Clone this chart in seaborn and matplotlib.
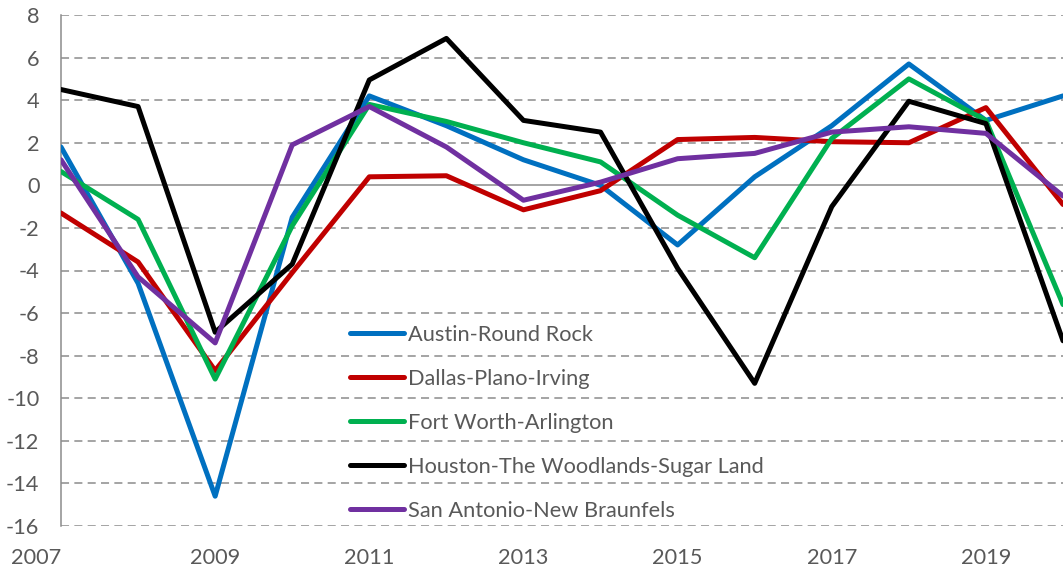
import numpy as np
import pandas as pd
import matplotlib
matplotlib.use("Agg")
import matplotlib.pyplot as plt
import seaborn as sns

years = list(range(2007, 2021))
austin = [1.8, -4.6, -14.6, -1.5, 4.2, 2.8, 1.2, 0.0, -2.8, 0.4, 2.8, 5.7, 3.05, 4.2]
dallas = [-1.3, -3.6, -8.7, -4.1, 0.4, 0.45, -1.15, -0.25, 2.15, 2.25, 2.05, 2.0, 3.65, -0.9]
fort_worth = [0.65, -1.6, -9.1, -1.9, 3.8, 3.0, 2.0, 1.1, -1.4, -3.4, 2.2, 5.0, 3.05, -5.6]
houston = [4.5, 3.7, -6.9, -3.7, 4.95, 6.9, 3.05, 2.5, -3.9, -9.3, -1.0, 3.95, 2.9, -7.3]
san_antonio = [1.2, -4.3, -7.4, 1.9, 3.7, 1.8, -0.7, 0.15, 1.25, 1.5, 2.5, 2.75, 2.44, -0.5]

series_names = ["Austin-Round Rock", "Dallas-Plano-Irving", "Fort Worth-Arlington",
                "Houston-The Woodlands-Sugar Land", "San Antonio-New Braunfels"]
series_values = [austin, dallas, fort_worth, houston, san_antonio]
colors = ["#0070C0", "#C00000", "#00B050", "#000000", "#7030A0"]

y_ticks = list(range(-16, 9, 2))
x_label_years = list(range(2007, 2020, 2))

rows = []
for name, vals in zip(series_names, series_values):
    for yr, v in zip(years, vals):
        rows.append({"Year": yr, "Value": v, "Metro": name})
df = pd.DataFrame(rows)

sns.set_style("white")
plt.rcParams["font.family"] = ["Lato", "DejaVu Sans"]
plt.rcParams["lines.scale_dashes"] = False

fig = plt.figure(figsize=(10.63, 5.70), dpi=100)
ax = fig.add_axes([61 / 1063, 1 - 526 / 570, 1 - 61 / 1063, (526 - 15) / 570])

text_color = "#595959"
grid_color = "#8C8C8C"
fs = 15.7

sns.lineplot(data=df, x="Year", y="Value", hue="Metro", hue_order=series_names,
             palette=dict(zip(series_names, colors)), linewidth=3.6, ax=ax,
             clip_on=True, zorder=3)

ax.set_xlim(2007, 2007 + (1063 - 61) / 77.5)
ax.set_ylim(-16, 8)
ax.set_yticks(y_ticks)
ax.set_yticklabels([str(t) for t in y_ticks])
for t in y_ticks:
    if t != 0:
        ax.axhline(t, color=grid_color, lw=1.1, linestyle=(0, (5.8, 3.8)), zorder=1)

for s in ["top", "right"]:
    ax.spines[s].set_visible(False)
ax.spines["left"].set_color(grid_color)
ax.spines["left"].set_linewidth(1.1)
ax.spines["bottom"].set_position(("data", 0))
ax.spines["bottom"].set_color(grid_color)
ax.spines["bottom"].set_linewidth(1.1)
ax.spines["bottom"].set_zorder(2)

ax.set_xticks(years)
ax.tick_params(axis="x", direction="out", length=5, width=1.1, color=grid_color,
               labelbottom=False)
ax.tick_params(axis="y", direction="out", length=6, width=1.1, color=grid_color,
               labelsize=fs, labelcolor=text_color, pad=9.5)

sec = ax.secondary_xaxis("bottom")
sec.set_xticks(x_label_years)
sec.set_xticklabels([str(y) for y in x_label_years])
sec.tick_params(axis="x", length=0, labelsize=fs, labelcolor=text_color, pad=16)
sec.spines["bottom"].set_visible(False)
lbls = sec.get_xticklabels()
lbls[0].set_horizontalalignment("right")

ax.set_xlabel("")
ax.set_ylabel("")

leg = ax.legend(loc="upper left", bbox_to_anchor=(0.288, 0.394), frameon=False,
                fontsize=fs, handlelength=2.5, handletextpad=0.2,
                labelspacing=1.1, borderpad=0, borderaxespad=0)
for txt in leg.get_texts():
    txt.set_color(text_color)
for line in leg.get_lines():
    line.set_linewidth(3.6)
    line.set_solid_capstyle("round")

fig.savefig("out.png", dpi=100)
